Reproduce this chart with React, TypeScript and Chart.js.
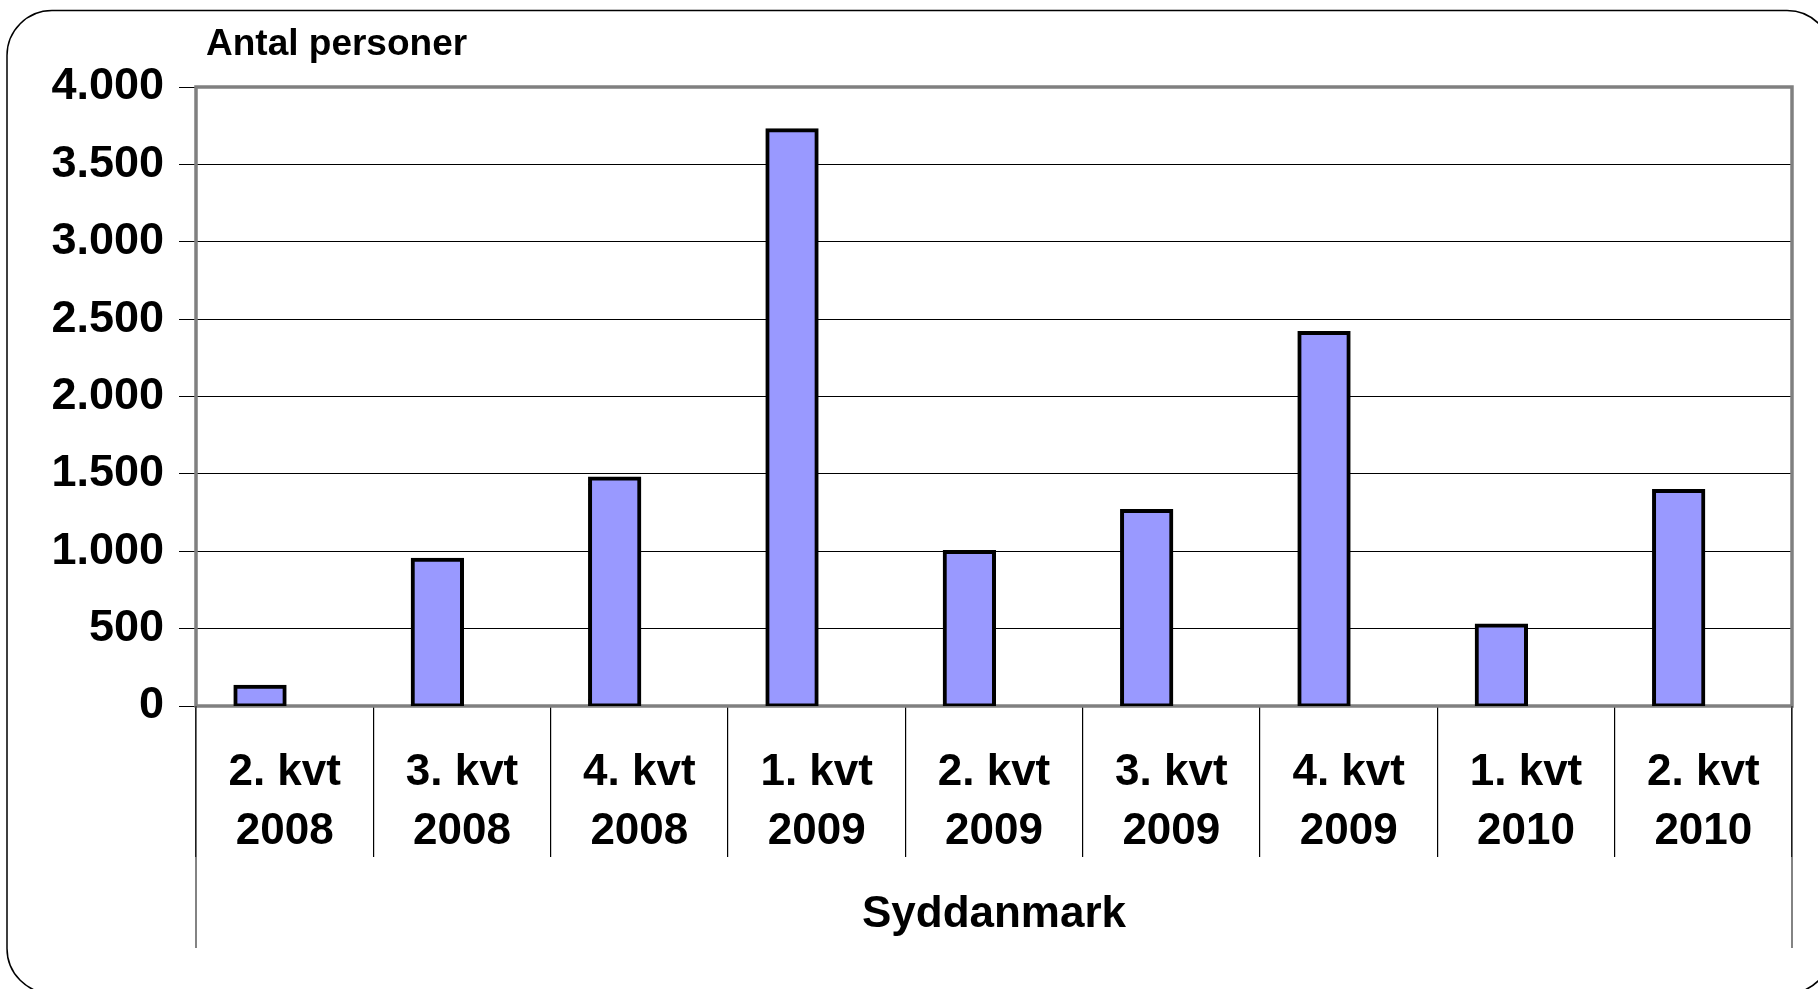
import React, { useEffect, useRef } from 'react';
import { Chart, registerables } from 'chart.js';

Chart.register(...registerables);

// ---- Data ----
const quarters = ['2. kvt', '3. kvt', '4. kvt', '1. kvt', '2. kvt', '3. kvt', '4. kvt', '1. kvt', '2. kvt'];
const years = ['2008', '2008', '2008', '2009', '2009', '2009', '2009', '2010', '2010'];
const syddanmarkValues = [125, 945, 1470, 3720, 995, 1260, 2410, 520, 1390];
// Empty second series of the original chart (keeps bars in the left slot of each category)
const emptySeries = [null, null, null, null, null, null, null, null, null];
const yTickLabels = ['0', '500', '1.000', '1.500', '2.000', '2.500', '3.000', '3.500', '4.000'];
const yAxisTitle = 'Antal personer';
const regionLabel = 'Syddanmark';

const FONT = '"Liberation Sans", Arial, Helvetica, sans-serif';

const decorPlugin = {
  id: 'decor',
  beforeDatasetsDraw(chart: any) {
    const { ctx, chartArea: a } = chart;
    ctx.save();
    ctx.strokeStyle = '#808080';
    ctx.lineWidth = 3.5;
    ctx.strokeRect(a.left, a.top, a.right - a.left, a.bottom - a.top);
    ctx.restore();
  },
  afterDraw(chart: any) {
    const { ctx, chartArea: a } = chart;
    const xs = chart.scales.x;
    ctx.save();
    // outer category-axis lines extending down past the region label
    ctx.strokeStyle = '#333';
    ctx.lineWidth = 1.2;
    ctx.beginPath();
    ctx.moveTo(a.left, a.bottom);
    ctx.lineTo(a.left, xs.bottom);
    ctx.moveTo(a.right, a.bottom);
    ctx.lineTo(a.right, xs.bottom);
    ctx.stroke();
    // value-axis title, horizontal above the plot
    ctx.fillStyle = '#000';
    ctx.font = `bold 37px ${FONT}`;
    ctx.textAlign = 'left';
    ctx.textBaseline = 'alphabetic';
    ctx.fillText(yAxisTitle, a.left + 10, 55);
    // rounded outer frame
    ctx.strokeStyle = '#000';
    ctx.lineWidth = 1.5;
    ctx.beginPath();
    (ctx as any).roundRect(7, 10.5, 1825, 983, 45);
    ctx.stroke();
    ctx.restore();
  },
};

export default function App() {
  const canvasRef = useRef<HTMLCanvasElement | null>(null);

  useEffect(() => {
    const canvas = canvasRef.current;
    if (!canvas) return;
    const labels = quarters.map((q, i) => [q, years[i]]);
    const chart = new Chart(canvas, {
      type: 'bar',
      data: {
        labels,
        datasets: [
          {
            label: regionLabel,
            data: syddanmarkValues,
            backgroundColor: '#9999FF',
            borderColor: '#000000',
            borderWidth: 4,
            borderSkipped: false,
            inflateAmount: 2,
            categoryPercentage: 0.556,
            barPercentage: 1.0,
          },
          {
            label: '',
            data: emptySeries as any,
            backgroundColor: '#993366',
            borderColor: '#000000',
            borderWidth: 4,
            categoryPercentage: 0.556,
            barPercentage: 1.0,
          },
        ],
      },
      options: {
        responsive: false,
        animation: false,
        devicePixelRatio: 1,
        layout: { padding: { left: 0, top: 87, right: 26, bottom: 41 } },
        plugins: {
          legend: { display: false },
          tooltip: { enabled: false },
          title: { display: false },
        },
        scales: {
          x: {
            offset: true,
            grid: {
              display: true,
              offset: true,
              drawOnChartArea: false,
              drawTicks: true,
              tickLength: 151,
              color: '#000',
              tickColor: '#000',
              lineWidth: 1.2,
            },
            border: { display: false },
            ticks: {
              color: '#000',
              autoSkip: false,
              maxRotation: 0,
              minRotation: 0,
              padding: -113,
              font: { family: FONT, size: 44, weight: 'bold', lineHeight: 1.33 },
            },
            title: {
              display: true,
              text: regionLabel,
              color: '#000',
              font: { family: FONT, size: 44, weight: 'bold', lineHeight: 1.2 },
              padding: { top: 0, bottom: 7 },
            },
            afterFit: (scale: any) => {
              scale.height = 242;
            },
          },
          y: {
            min: 0,
            max: 4000,
            ticks: {
              stepSize: 500,
              color: '#000',
              padding: 15,
              font: { family: FONT, size: 45, weight: 'bold' },
              callback: (_v: any, i: number) => yTickLabels[i],
            },
            grid: {
              color: '#000',
              lineWidth: 1,
              drawTicks: true,
              tickLength: 17,
              tickColor: '#000',
            },
            border: { display: false },
            afterFit: (scale: any) => {
              scale.width = 196;
            },
          },
        },
      },
      plugins: [decorPlugin],
    });
    return () => chart.destroy();
  }, []);

  return (
    <div style={{ position: 'fixed', left: 0, top: 0, width: 1818, height: 989, background: '#fff' }}>
      <canvas ref={canvasRef} width={1818} height={989} style={{ display: 'block' }} />
    </div>
  );
}
